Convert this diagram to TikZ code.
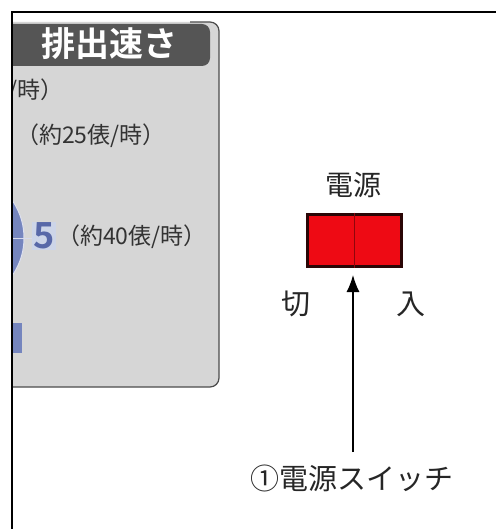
\documentclass[tikz,border=0pt]{standalone}
\usepackage{fontspec}
\usetikzlibrary{arrows.meta}
\setmainfont{Noto Sans CJK JP}
\newfontfamily\jpbold{Noto Sans CJK JP Bold}
\definecolor{panelgray}{HTML}{D6D6D6}
\definecolor{headgray}{HTML}{555555}
\definecolor{dialblue}{HTML}{7585BE}
\definecolor{numblue}{HTML}{5868A8}
\definecolor{hlblue}{HTML}{CDD5E8}
\definecolor{swred}{HTML}{EE0A14}
\definecolor{swdark}{HTML}{2A0606}
\tikzset{
  lbl/.style={inner sep=0pt, text=black!80, font=\fontsize{23}{23}\selectfont},
  big/.style={inner sep=0pt, text=black!85, font=\fontsize{29}{29}\selectfont},
}
\begin{document}
\begin{tikzpicture}[x=1pt,y=-1pt]
\useasboundingbox (0,0) rectangle (496,529);
\fill[white] (0,0) rectangle (496,529);
% panel
\fill[panelgray, rounded corners=9pt] (12,22) -- (219,22) -- (219,387) [sharp corners] -- (12,387) -- cycle;
\draw[black!70, line width=1.2pt, rounded corners=9pt] (12,387) -- (219,387) -- (219,22) -- (190,22);
% header
\fill[headgray, rounded corners=8pt] (12,24) -- (210,24) -- (210,66) [sharp corners] -- (12,66) -- cycle;
\node[inner sep=0pt, text=white, font=\jpbold\fontsize{34}{34}\selectfont] (head) at (109,44) {排出速さ};
% dial fragments and cut-off texts
\begin{scope}
\clip (12,70) rectangle (219,380);
\fill[dialblue] (-42,238) circle[radius=66];
\draw[white!75!dialblue, line width=1pt] (-42,238) circle[radius=66];
\node[lbl, anchor=east] (t1) at (64,91) {/時）};
\end{scope}
\draw[white!70!dialblue, line width=0.6pt] (12,238) -- (33,238);
\fill[dialblue] (12,323) rectangle (22,353);
% texts
\node[lbl, anchor=west] (t2) at (16,136) {（約25俵/時）};
\node[inner sep=1pt, fill=hlblue, text=numblue, font=\jpbold\fontsize{36}{36}\selectfont] (five) at (44,236) {5};
\node[lbl, anchor=west] (t3) at (57,237) {（約40俵/時）};
% switch
\node[big, font=\fontsize{28}{28}\selectfont] (dengen) at (353,185) {電源};
\node[draw=swdark, line width=3pt, fill=swred, minimum width=94pt, minimum height=52pt, inner sep=0pt] (sw) at (354,240) {};
\draw[swred!60!black, line width=1pt] (sw.north) -- (sw.south);
\node[big] (off) at (296,304) {切};
\node[big] (on) at (411,304) {入};
\node[big] (cap) at (352,478) {①電源スイッチ};
\coordinate (a0) at (353,452);
\coordinate (a1) at (353,275);
\draw[-{Latex[length=17pt,width=13pt]}, line width=1.3pt] (a0) -- (a1);
% outer frame
\draw[black, line width=1.6pt] (12,529) -- (12,12) -- (496,12);
\end{tikzpicture}
\end{document}
